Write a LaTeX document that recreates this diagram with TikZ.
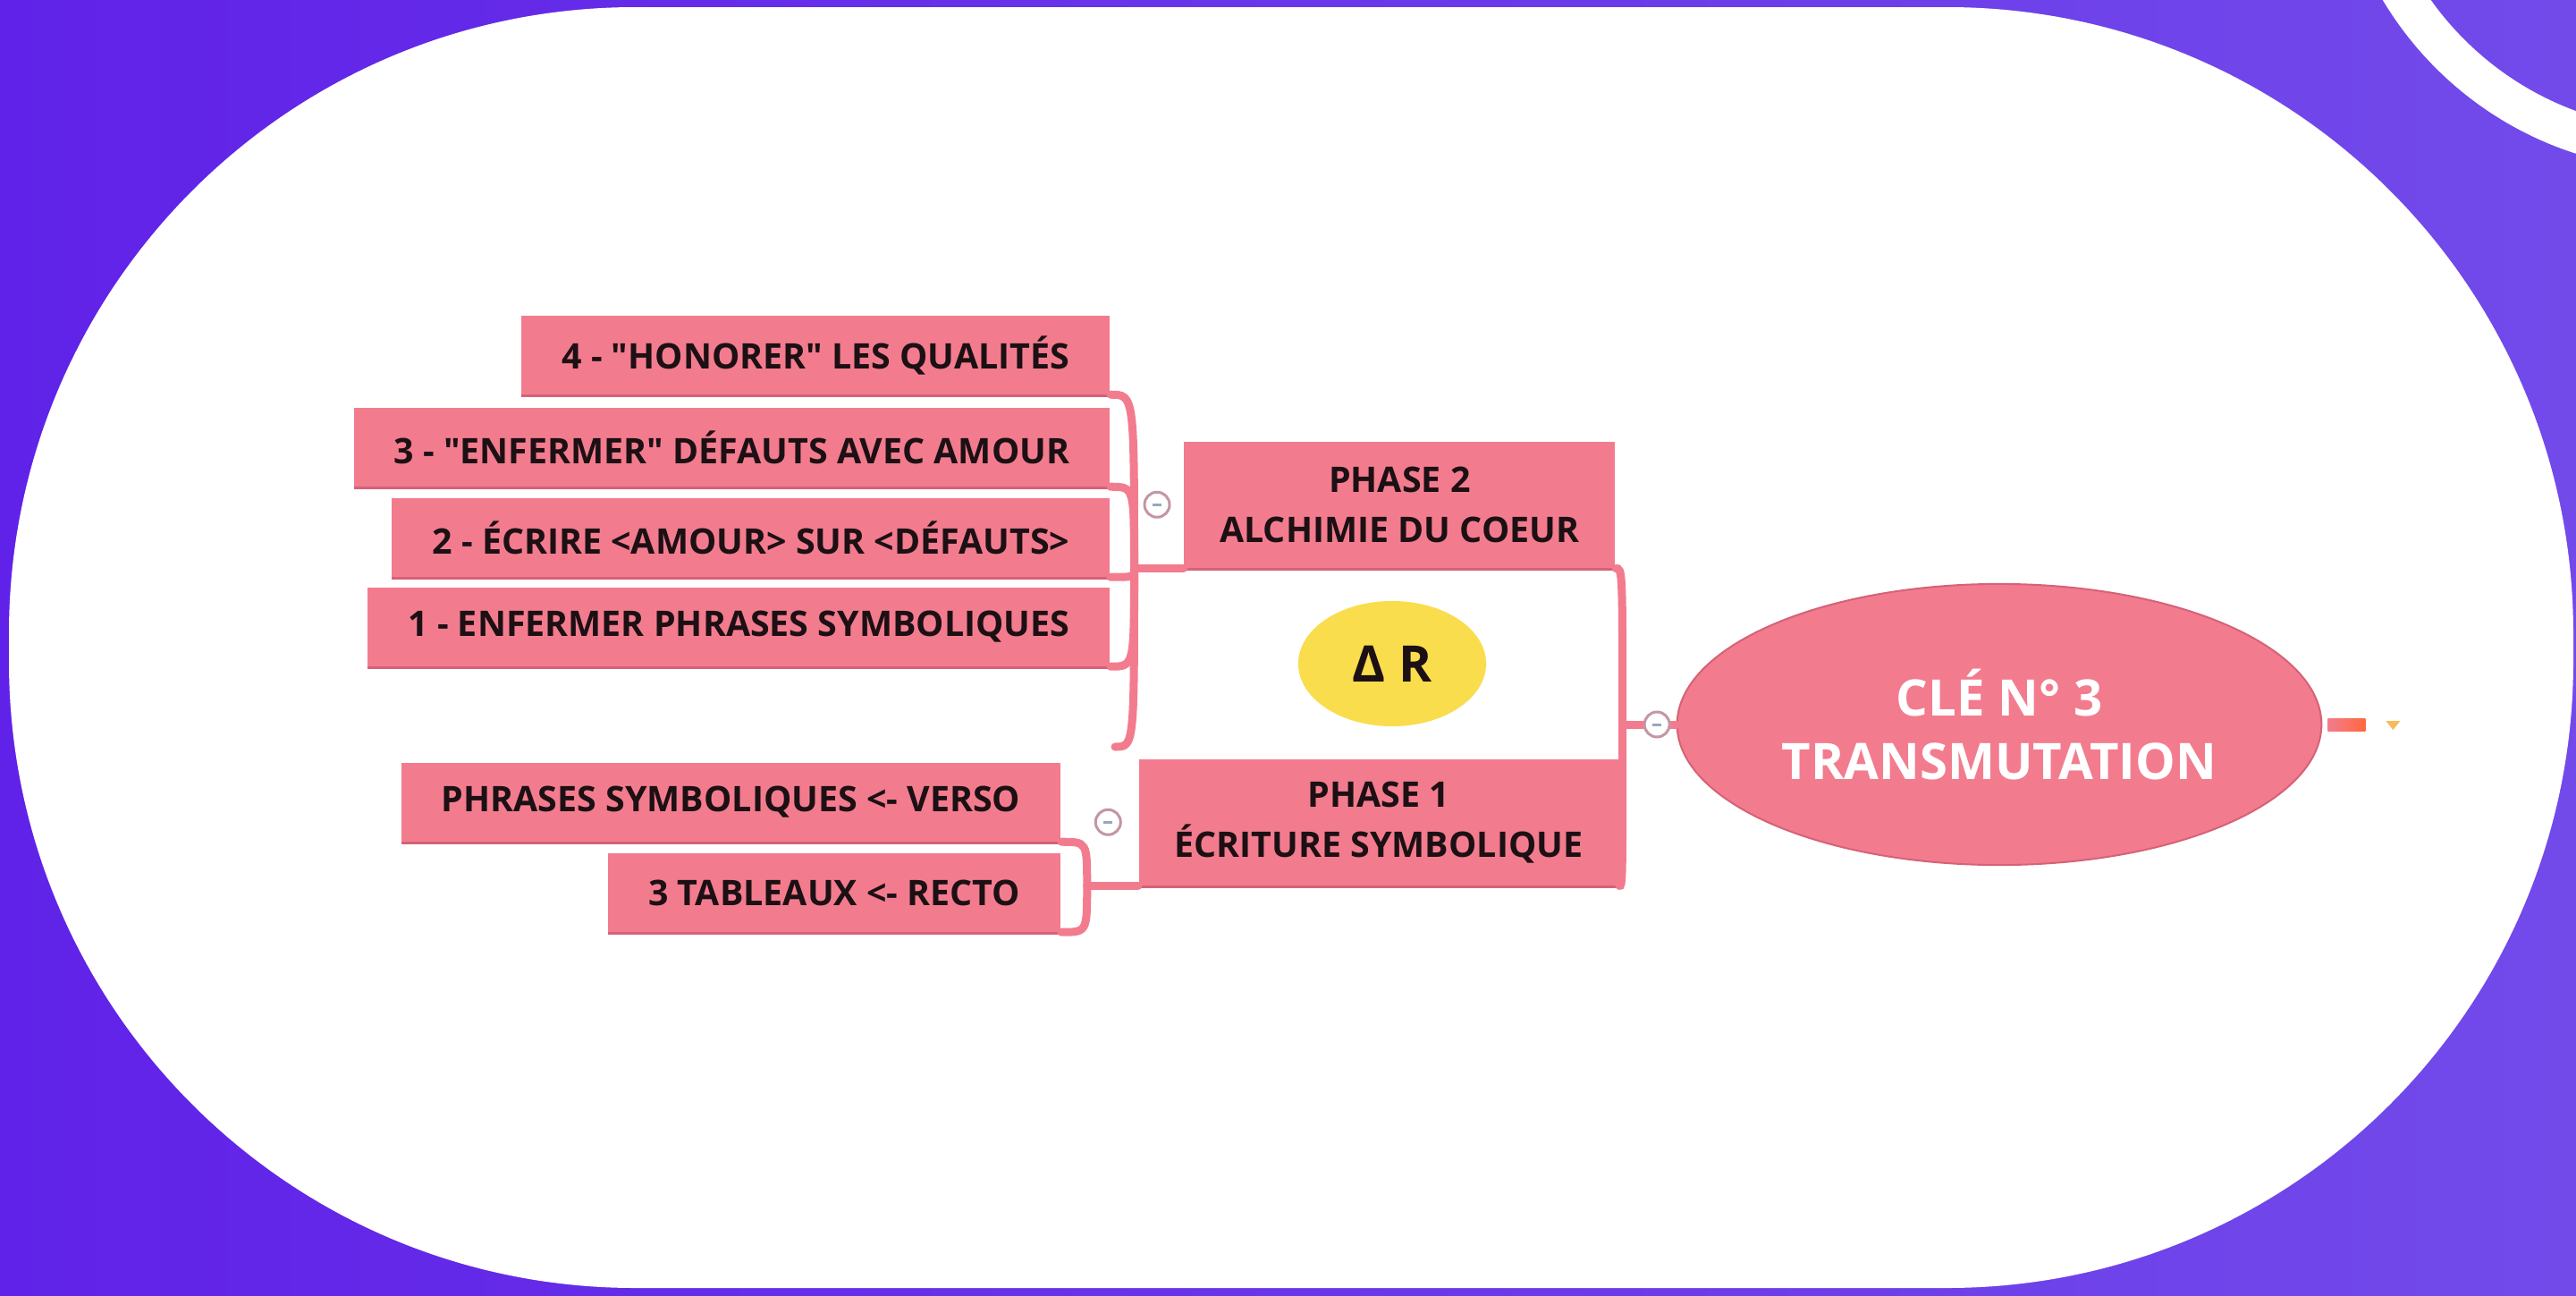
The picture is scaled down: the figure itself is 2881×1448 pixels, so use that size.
\documentclass[tikz,border=0pt]{standalone}
\usepackage{fontspec}
\setmainfont{Open Sans}[Ligatures=TeXOff]
\usetikzlibrary{positioning}
\usetikzlibrary{shapes.geometric}
\usetikzlibrary{shadows}

\definecolor{bgleft}{RGB}{96,34,232}
\definecolor{bgright}{RGB}{114,74,234}
\definecolor{clepink}{RGB}{242,124,142}
\definecolor{pinkshade}{RGB}{214,98,118}
\definecolor{inkdark}{RGB}{28,16,20}
\definecolor{deltayellow}{RGB}{249,221,76}
\definecolor{togglering}{RGB}{196,150,164}
\definecolor{togglemark}{RGB}{150,168,190}
\definecolor{markorange}{RGB}{255,104,64}
\definecolor{markyellow}{RGB}{250,186,90}

\tikzset{
  branch/.style={fill=clepink, text=inkdark, font=\bfseries\fontsize{11.2}{16}\selectfont,
    inner xsep=0.45cm, inner ysep=0pt, minimum height=0.87cm, anchor=east,
    drop shadow={shadow xshift=0cm, shadow yshift=-0.03cm, fill=pinkshade, opacity=1}},
  phase/.style={branch, align=center, minimum height=1.41cm, inner xsep=0.4cm, anchor=north east},
  link/.style={draw=clepink, line width=0.09cm, line cap=round},
  toggle/.style={circle, draw=togglering, fill=white, line width=0.03cm, minimum size=0.28cm, inner sep=0pt},
}

\begin{document}
\begin{tikzpicture}[x=0.01cm, y=-0.01cm]
\useasboundingbox (0,0) rectangle (2881,1448);
\shade [left color=bgleft, right color=bgright] (0,0) rectangle (2881,1448);
\begin{scope}
\clip (0,0) rectangle (2881,1448);
\draw [white, line width=0.45cm] (3000,-200) circle [radius=3.675cm];
\end{scope}
\fill [white, rounded corners=7cm] (10,8) rectangle (2878,1440);

%% centre
\node[ellipse, fill=clepink, draw=pinkshade, line width=0.02cm, minimum width=7cm, minimum height=3.14cm,
  text=white, font=\bfseries\fontsize{16}{20}\selectfont, align=center] (cle) at (2236,810) {CLÉ N° 3\\TRANSMUTATION};

\node[phase] (phase2) at (1807,493) {PHASE 2\\ALCHIMIE DU COEUR};
\node[phase] (phase1) at (1811,848) {PHASE 1\\ÉCRITURE SYMBOLIQUE};

\node[ellipse, fill=deltayellow, minimum width=2.1cm, minimum height=1.4cm, text=inkdark,
  font=\bfseries\fontsize{16}{19}\selectfont] (delta) at (1557,742) {Δ R};

%% phase 2
\node[branch] (honorer) at (1242,397) {4 - "HONORER" LES QUALITÉS};
\node[branch] (enfermer) at (1242,500) {3 - "ENFERMER" DÉFAUTS AVEC AMOUR};
\node[branch] (ecrire) at (1242,601) {2 - ÉCRIRE <AMOUR> SUR <DÉFAUTS>};
\node[branch] (phrases) at (1242,701) {1 - ENFERMER PHRASES SYMBOLIQUES};

%% phase 1
\node[branch] (verso) at (1187,897) {PHRASES SYMBOLIQUES <- VERSO};
\node[branch] (recto) at (1187,998) {3 TABLEAUX <- RECTO};

%% liens
\coordinate (j0) at ([xshift=-0.6cm]cle.west);
\draw[link] (cle.west) -- (j0);
\draw[link] (j0) .. controls (j0 |- phase2.south east) .. (phase2.south east);
\draw[link] (j0) .. controls (j0 |- phase1.south east) .. (phase1.south east);

\coordinate (j2) at ([xshift=-0.55cm]phase2.south west);
\draw[link] (phase2.south west) -- (j2);
\foreach \leaf in {honorer,enfermer,ecrire,phrases}
  \draw[link] (j2) .. controls (j2 |- \leaf.south east) .. (\leaf.south east);
\coordinate (tail2) at (1247,835);
\draw[link] (j2) .. controls (j2 |- tail2) .. (tail2);

\coordinate (j1) at ([xshift=-0.57cm]phase1.south west);
\draw[link] (phase1.south west) -- (j1);
\foreach \leaf in {verso,recto}
  \draw[link] (j1) .. controls (j1 |- \leaf.south east) .. (\leaf.south east);

%% boutons
\node[toggle, left=0.06cm of cle.west] (cletoggle) {\textcolor{togglemark}{\rule{0.1cm}{0.03cm}}};
\node[toggle, left=0.14cm of phase2.west] (toggle2) {\textcolor{togglemark}{\rule{0.1cm}{0.03cm}}};
\node[toggle, left=0.18cm of phase1.west] (toggle1) {\textcolor{togglemark}{\rule{0.1cm}{0.03cm}}};

%% repli
\shade[left color=clepink, right color=markorange] ([xshift=0.06cm, yshift=-0.07cm]cle.east) rectangle ([xshift=0.48cm, yshift=0.07cm]cle.east);
\coordinate (tip) at ([xshift=0.79cm]cle.east);
\fill[markyellow] ([shift={(-0.08cm,0.04cm)}]tip) -- ([shift={(0.08cm,0.04cm)}]tip) -- ([shift={(0cm,-0.06cm)}]tip) -- cycle;
\end{tikzpicture}
\end{document}
